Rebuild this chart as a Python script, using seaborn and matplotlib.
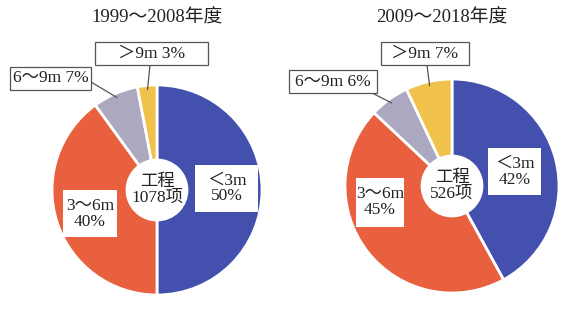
import numpy as np
import matplotlib
matplotlib.use("Agg")
import matplotlib.pyplot as plt
import seaborn as sns
from matplotlib.patches import Rectangle

sns.set_theme(style="white")
plt.rcParams['font.family'] = ['Liberation Serif', 'Noto Sans CJK SC', 'DejaVu Sans']

# Data: share of projects by excavation depth class
depth_labels = ["＜3m", "3～6m", "6～9m", "＞9m"]
period_titles = ["1999～2008年度", "2009～2018年度"]
project_counts = [1078, 526]
share_1999_2008 = [50, 40, 7, 3]
share_2009_2018 = [42, 45, 6, 7]

palette = sns.color_palette(["#4350AD", "#E8603E", "#ACA8BF", "#F1C24B"])

W, H = 574, 326
TEXT = "#222222"
FS = 12.5


def Y(py):
    return H - py


# layout of each ring (pixel positions, top-left origin)
layouts = [
    dict(center=(157, 190), radius=105, hole=30, title=(157, 18),
         boxes=[(195, 165, 63, 47), (63, 190, 54, 47), (10, 67, 81, 23), (95, 42, 113, 23)],
         leader_from={2: (91, 82), 3: (150, 65)}),
    dict(center=(452, 186), radius=107, hole=30, title=(442, 18),
         boxes=[(488, 148, 53, 47), (356, 178, 48, 49), (289, 70, 88, 23), (381, 42, 88, 23)],
         leader_from={2: (372, 93), 3: (427, 65)}),
]

fig = plt.figure(figsize=(W / 100, H / 100), dpi=100)
ax = fig.add_axes([0, 0, 1, 1])

for shares, count, title, lay in zip([share_1999_2008, share_2009_2018],
                                     project_counts, period_titles, layouts):
    cx, cy = lay["center"]
    r = lay["radius"]
    ax.pie(shares, colors=palette, startangle=90, counterclock=False,
           radius=r, center=(cx, Y(cy)), frame=True,
           wedgeprops=dict(width=r - lay["hole"], edgecolor="white", linewidth=2))

    ax.text(lay["title"][0], Y(lay["title"][1]), title, ha="center", va="center",
            fontsize=13.5, color=TEXT)
    ax.text(cx, Y(cy), f"工程\n{count}项", ha="center", va="center",
            fontsize=FS, color=TEXT, linespacing=1.05)

    cum = np.cumsum(shares)
    mids = cum - np.array(shares) / 2
    for i, (name, v) in enumerate(zip(depth_labels, shares)):
        bx, by, bw, bh = lay["boxes"][i]
        inside = i < 2
        ax.add_patch(Rectangle((bx, Y(by + bh)), bw, bh, facecolor="white",
                               edgecolor="none" if inside else "#555555",
                               linewidth=0.9, zorder=3))
        label = f"{name}\n{v}%" if inside else f"{name} {v}%"
        ax.text(bx + bw / 2, Y(by + bh / 2), label, ha="center", va="center",
                fontsize=FS, color=TEXT, linespacing=1.0, zorder=4)
        if i in lay["leader_from"]:
            ang = np.deg2rad(90 - mids[i] / 100 * 360)
            ex = cx + 0.96 * r * np.cos(ang)
            ey = Y(cy) + 0.96 * r * np.sin(ang)
            sx, sy = lay["leader_from"][i]
            ax.plot([sx, ex], [Y(sy), ey], color="#555555", linewidth=0.9, zorder=2)

ax.set_xlim(0, W)
ax.set_ylim(0, H)
ax.set_aspect("equal")
ax.axis("off")
fig.savefig("out.png", dpi=100, facecolor="white")
